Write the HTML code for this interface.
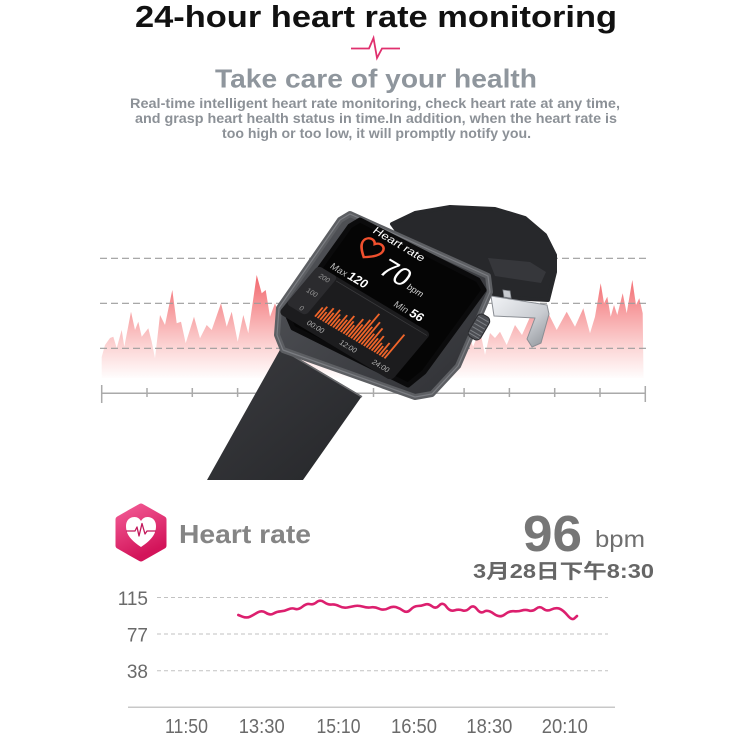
<!DOCTYPE html>
<html>
<head>
<meta charset="utf-8">
<style>
html,body{margin:0;padding:0;background:#fff;}
svg{display:block;}
text{font-family:"Liberation Sans","Noto Sans CJK SC",sans-serif;}
</style>
</head>
<body>
<svg width="750" height="750" viewBox="0 0 750 750" xmlns="http://www.w3.org/2000/svg">
<defs>
  <linearGradient id="areaG" gradientUnits="userSpaceOnUse" x1="0" y1="275" x2="0" y2="380">
    <stop offset="0" stop-color="#f2666c"/>
    <stop offset="0.35" stop-color="#f7a0a2"/>
    <stop offset="0.7" stop-color="#fcd7d7"/>
    <stop offset="1" stop-color="#ffffff"/>
  </linearGradient>
  <linearGradient id="strapG" x1="0" y1="0" x2="1" y2="1">
    <stop offset="0" stop-color="#3a3b3f"/>
    <stop offset="1" stop-color="#26272a"/>
  </linearGradient>
  <linearGradient id="caseG" x1="0" y1="0" x2="1" y2="1">
    <stop offset="0" stop-color="#55575c"/>
    <stop offset="1" stop-color="#2e2f33"/>
  </linearGradient>
  <linearGradient id="buckleG" x1="0" y1="0" x2="1" y2="1">
    <stop offset="0" stop-color="#f2f4f7"/>
    <stop offset="0.6" stop-color="#c9ccd1"/>
    <stop offset="1" stop-color="#8d9197"/>
  </linearGradient>
  <linearGradient id="iconG" x1="0" y1="0" x2="0.4" y2="1">
    <stop offset="0" stop-color="#f25a94"/>
    <stop offset="1" stop-color="#d3145a"/>
  </linearGradient>
</defs>

<!-- Header -->
<text x="135" y="27" font-size="31" font-weight="bold" fill="#111" textLength="482" lengthAdjust="spacingAndGlyphs">24-hour heart rate monitoring</text>
<path d="M351,48.5 L369,48.5 L373.5,38 L377,58 L382,48.5 L400,48.5" fill="none" stroke="#e0306e" stroke-width="1.8"/>
<text x="215" y="87.5" font-size="26" font-weight="bold" fill="#8f969d" textLength="322" lengthAdjust="spacingAndGlyphs">Take care of your health</text>
<text x="130" y="108" font-size="13.5" font-weight="bold" fill="#8c9197" textLength="490" lengthAdjust="spacingAndGlyphs">Real-time intelligent heart rate monitoring, check heart rate at any time,</text>
<text x="135" y="123" font-size="13.5" font-weight="bold" fill="#8c9197" textLength="482" lengthAdjust="spacingAndGlyphs">and grasp heart health status in time.In addition, when the heart rate is</text>
<text x="222" y="138" font-size="13.5" font-weight="bold" fill="#8c9197" textLength="309" lengthAdjust="spacingAndGlyphs">too high or too low, it will promptly notify you.</text>

<!-- Upper area chart -->
<path fill="url(#areaG)" d="M101.7,378 L101.7,357 L105,345 L110,338 L113.3,336.7 L116.7,348 L121.7,330 L124.3,346.7 L131,311.7 L135,330 L138.3,321.7 L141.7,336.7 L148.3,328.3 L151.7,341.7 L155,358.3 L160,315 L165,325 L172.3,290 L176.7,323.3 L181,321.7 L185.7,343.3 L194,316.7 L200,338.3 L206.7,325 L211.7,330 L221,303.3 L226.7,326.7 L231.7,311.7 L237.7,341.7 L243.3,315 L248.3,333.3 L256.7,275 L261.7,293.3 L265.7,290 L270,316.7 L275,303.3 L280,318 L286,296 L292,325 L298,308 L305,330 L312,300 L320,322 L330,290 L340,318 L350,305 L360,335 L370,300 L380,325 L390,310 L400,332 L410,305 L420,328 L430,300 L440,330 L448,315 L455,335 L461.7,346.7 L468,330 L473,346.7 L480,330 L485,355 L490,333 L495,338 L500,331.7 L506.7,345 L515,325 L522,335 L531.7,313.3 L540,321.7 L548.3,313.3 L556.7,330 L566.7,311.7 L575,326.7 L583.3,308.3 L590,333.3 L595,316.7 L600.7,283.3 L604,303.3 L607.3,296.7 L610.7,316.7 L614,305 L617.3,315 L622.7,293.3 L626.7,313.3 L632.3,280 L636,305 L639.3,298.3 L642.7,313.3 L643.5,378 Z"/>
<g stroke="#9c9c9c" stroke-width="1.2" stroke-dasharray="7 4">
  <line x1="100" y1="258.3" x2="647" y2="258.3"/>
  <line x1="100" y1="303.3" x2="647" y2="303.3"/>
  <line x1="100" y1="348.3" x2="647" y2="348.3"/>
</g>
<g stroke="#aaaaaa" stroke-width="1.5">
  <line x1="101" y1="393.3" x2="646" y2="393.3"/>
  <line x1="101.7" y1="385" x2="101.7" y2="403"/>
  <line x1="147" y1="388" x2="147" y2="397"/>
  <line x1="192.3" y1="388" x2="192.3" y2="397"/>
  <line x1="237.6" y1="388" x2="237.6" y2="397"/>
  <line x1="282.9" y1="388" x2="282.9" y2="397"/>
  <line x1="328.2" y1="388" x2="328.2" y2="397"/>
  <line x1="373.5" y1="388" x2="373.5" y2="397"/>
  <line x1="418.8" y1="388" x2="418.8" y2="397"/>
  <line x1="464.1" y1="388" x2="464.1" y2="397"/>
  <line x1="509.4" y1="388" x2="509.4" y2="397"/>
  <line x1="554.7" y1="388" x2="554.7" y2="397"/>
  <line x1="600" y1="388" x2="600" y2="397"/>
  <line x1="645.3" y1="386" x2="645.3" y2="402"/>
</g>

<!-- Watch -->
<!-- upper strap -->
<polygon points="392,224 415,213 450,207 495,209 525,218 545,235 555,255 555,272 548,300 493,297 488,282 400,235" fill="#27282b" stroke="#27282b" stroke-width="4" stroke-linejoin="round"/>
<polygon points="488,258 530,262 546,272 541,283 495,276" fill="#36373b"/>
<!-- buckle -->
<polygon points="491,296 547,305 549,314 541,343 532,347 527,339 535,318 494,316" fill="url(#buckleG)" stroke="#8a8e94" stroke-width="1" stroke-linejoin="round"/>
<polygon points="503,290 510,291 511,298 504,297" fill="#c8cbd0" stroke="#8a8e94" stroke-width="0.8"/>
<!-- lower strap -->
<polygon points="281,348 362,396 303,480 207,480" fill="url(#strapG)"/>
<line x1="283" y1="350" x2="362" y2="397" stroke="#6a6b6e" stroke-width="1.5"/>
<!-- case -->
<polygon points="350,214 488,276 490,292 458,366 432,394 415,397 283,350 277,335 279,308 340,220" fill="url(#caseG)" stroke="#5d5f63" stroke-width="6" stroke-linejoin="round"/>
<polygon points="350,214 488,276 490,292 458,366 432,394 415,397 283,350 277,335 279,308 340,220" fill="none" stroke="#7b7d82" stroke-width="1.2" stroke-linejoin="round"/>
<!-- crown -->
<g transform="translate(479,327) rotate(30)">
  <rect x="-7" y="-13" width="14" height="26" rx="5" fill="#4b4d52" stroke="#2a2b2e" stroke-width="1"/>
  <g stroke="#7d8085" stroke-width="1">
    <line x1="-6" y1="-9" x2="6" y2="-9"/><line x1="-6" y1="-5" x2="6" y2="-5"/><line x1="-6" y1="-1" x2="6" y2="-1"/>
    <line x1="-6" y1="3" x2="6" y2="3"/><line x1="-6" y1="7" x2="6" y2="7"/><line x1="-6" y1="10" x2="6" y2="10"/>
  </g>
</g>
<!-- screen -->
<polygon points="360,220 478,280 484,290 424,372 408,385 293,328 287,314 350,226" fill="#050505" stroke="#0b0b0c" stroke-width="5" stroke-linejoin="round"/>
<g transform="matrix(0.857,0.515,-0.643,0.766,358,218)">
  <text x="20" y="5" font-size="11" fill="#ffffff" textLength="58" lengthAdjust="spacingAndGlyphs">Heart rate</text>
  <path d="M30,31 C22,25 19,21 19,17 C19,13 22,11 25,11 C27.5,11 29,12.5 30,14 C31,12.5 32.5,11 35,11 C38,11 41,13 41,17 C41,21 38,25 30,31 Z" fill="none" stroke="#f0502e" stroke-width="2.4"/>
  <text x="50" y="37" font-size="27" fill="#ffffff">70</text>
  <text x="83" y="36" font-size="9" fill="#dddddd">bpm</text>
  <text x="10" y="58" font-size="9.5" fill="#bdbdbd">Max</text>
  <text x="30" y="58" font-size="12.5" font-weight="bold" fill="#ffffff">120</text>
  <text x="84" y="58" font-size="9.5" fill="#bdbdbd">Min</text>
  <text x="102" y="58" font-size="12.5" font-weight="bold" fill="#ffffff">56</text>
  <rect x="0" y="62" width="132" height="62" rx="5" fill="#1c1c1e"/>
  <rect x="0" y="62" width="23" height="50" rx="4" fill="#2b2b2e"/>
  <line x1="24" y1="66" x2="130" y2="66" stroke="#3a3a3c" stroke-width="0.8"/>
  <g font-size="7" fill="#9a9a9a" text-anchor="middle">
    <text x="13" y="72">200</text>
    <text x="13" y="91">100</text>
    <text x="15" y="110">0</text>
  </g>
  <g fill="#f0652a">
    <rect x="30" y="96" width="1.8" height="12"/><rect x="33" y="93" width="1.8" height="15"/>
    <rect x="36" y="98" width="1.8" height="10"/><rect x="39" y="91" width="1.8" height="17"/>
    <rect x="42" y="95" width="1.8" height="13"/><rect x="45" y="89" width="1.8" height="19"/>
    <rect x="48" y="93" width="1.8" height="15"/><rect x="51" y="97" width="1.8" height="11"/>
    <rect x="54" y="90" width="1.8" height="18"/><rect x="57" y="94" width="1.8" height="14"/>
    <rect x="60" y="87" width="1.8" height="21"/><rect x="63" y="92" width="1.8" height="16"/>
    <rect x="66" y="95" width="1.8" height="13"/><rect x="69" y="85" width="1.8" height="23"/>
    <rect x="72" y="90" width="1.8" height="18"/><rect x="75" y="82" width="1.8" height="26"/>
    <rect x="78" y="72" width="1.8" height="36"/><rect x="81" y="87" width="1.8" height="21"/>
    <rect x="84" y="79" width="1.8" height="29"/><rect x="87" y="92" width="1.8" height="16"/>
    <rect x="90" y="83" width="1.8" height="25"/><rect x="93" y="94" width="1.8" height="14"/>
    <rect x="96" y="89" width="1.8" height="19"/><rect x="99" y="96" width="1.8" height="12"/>
    <rect x="102" y="98" width="1.8" height="10"/><rect x="105" y="92" width="1.8" height="16"/>
    <rect x="108" y="99" width="1.8" height="9"/><rect x="111" y="77" width="1.8" height="31"/>
  </g>
  <g font-size="7.5" fill="#b5b5b5" text-anchor="middle">
    <text x="38" y="119">00:00</text>
    <text x="76" y="119">12:00</text>
    <text x="114" y="119">24:00</text>
  </g>
</g>

<!-- Bottom section -->
<polygon points="141,507 163,519.5 163,545.5 141,558 119,545.5 119,519.5" fill="url(#iconG)" stroke="url(#iconG)" stroke-width="7" stroke-linejoin="round"/>
<path d="M141,547 C129,539 126,533 126,526 C126,520 130,517 134.5,517 C137.5,517 139.5,518.5 141,521 C142.5,518.5 144.5,517 147.5,517 C152,517 156,520 156,526 C156,533 153,539 141,547 Z" fill="#ffffff"/>
<path d="M126,531 L135,531 L137,527 L139,536 L142,523.5 L145,534 L147,531 L156,531" fill="none" stroke="#c2185b" stroke-width="1.3" stroke-linejoin="round"/>
<text x="179" y="543" font-size="26" font-weight="bold" fill="#858585" textLength="132" lengthAdjust="spacingAndGlyphs">Heart rate</text>

<text x="523" y="551" font-size="51" font-weight="bold" fill="#767676" textLength="59" lengthAdjust="spacingAndGlyphs">96</text>
<text x="595" y="547" font-size="23" fill="#6f6f6f" textLength="50" lengthAdjust="spacingAndGlyphs">bpm</text>
<text x="473" y="578" font-size="20" font-weight="bold" fill="#666666" textLength="181" lengthAdjust="spacingAndGlyphs">3月28日下午8:30</text>

<g font-size="19" fill="#6a6a6a" text-anchor="end">
  <text x="148" y="605">115</text>
  <text x="148" y="641.5">77</text>
  <text x="148" y="678">38</text>
</g>
<g stroke="#c2c2c2" stroke-width="1" stroke-dasharray="4 3">
  <line x1="157" y1="597.5" x2="608" y2="597.5"/>
  <line x1="157" y1="634" x2="608" y2="634"/>
  <line x1="157" y1="670.7" x2="608" y2="670.7"/>
</g>
<line x1="128" y1="707.3" x2="615" y2="707.3" stroke="#c8c8c8" stroke-width="1.5"/>
<g font-size="20" fill="#6a6a6a" text-anchor="middle">
  <text x="186.5" y="733" textLength="43" lengthAdjust="spacingAndGlyphs">11:50</text>
  <text x="261.7" y="733" textLength="46" lengthAdjust="spacingAndGlyphs">13:30</text>
  <text x="338.5" y="733" textLength="44" lengthAdjust="spacingAndGlyphs">15:10</text>
  <text x="414" y="733" textLength="46" lengthAdjust="spacingAndGlyphs">16:50</text>
  <text x="489.4" y="733" textLength="46" lengthAdjust="spacingAndGlyphs">18:30</text>
  <text x="564.8" y="733" textLength="46" lengthAdjust="spacingAndGlyphs">20:10</text>
</g>
<path fill="none" stroke="#dc1f6e" stroke-width="2.6" stroke-linecap="round" stroke-linejoin="round" d="M238.3,615 L242.5,616.65 Q246.7,618.3 250,616.65 Q253.3,615 257.5,612.5 Q261.7,610 265.85,612.75 Q270,615.5 273.35,613.6 Q276.7,611.7 280.85,611.35 Q285,611 288.35,609.35 Q291.7,607.7 295,608.85 Q298.3,610 302.5,606.65 Q306.7,603.3 310,604.15 Q313.3,605 316.65,602.15 Q320,599.3 324.15,602.15 Q328.3,605 331.65,604.5 Q335,604 339.15,606.15 Q343.3,608.3 347.3,607.5 Q351.3,606.7 354.85,606 Q358.4,605.3 362.9,606.65 Q367.4,608 371,607.35 Q374.6,606.7 379.1,608.7 Q383.6,610.7 388.05,608.35 Q392.5,606 396.1,607.15 Q399.7,608.3 403.3,610.8 Q406.9,613.3 410.5,609.65 Q414.1,606 417.7,606 Q421.3,606 424.85,604.65 Q428.4,603.3 432,606.3 Q435.6,609.3 439.2,605.5 Q442.8,601.7 446.4,606.7 Q450,611.7 454.45,610.35 Q458.9,609 462.5,610.35 Q466.1,611.7 469.7,608 Q473.3,604.3 476.9,609.15 Q480.5,614 484.05,611.65 Q487.6,609.3 493.9,613.8 Q500.2,618.3 504.7,614.5 Q509.2,610.7 513.7,611.2 Q518.2,611.7 521.75,610.5 Q525.3,609.3 528.9,610.5 Q532.5,611.7 536.1,608.7 Q539.7,605.7 543.3,608.7 Q546.9,611.7 551.35,609.5 Q555.8,607.3 559.4,608.65 Q563,610 567.5,615.35 Q572,620.7 574.5,618.35 L577,616"/>
</svg>
</body>
</html>
